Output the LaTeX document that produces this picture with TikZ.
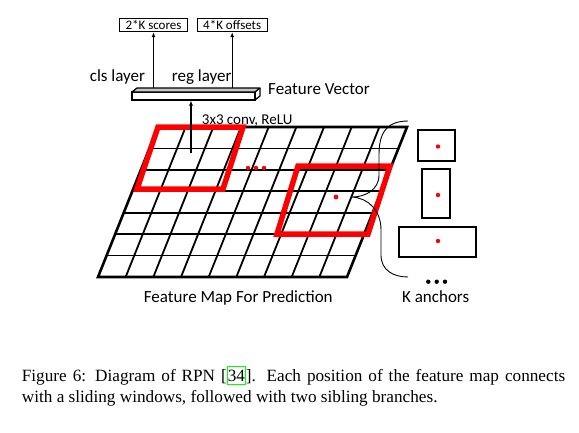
\documentclass[tikz,border=0pt]{standalone}
\usepackage{fontspec}
\setmainfont{Carlito}
\newfontfamily\capfont{Liberation Serif}
\usetikzlibrary{calc,arrows.meta}

\tikzset{
  grid line/.style={line width=1.8pt},
  window/.style={red,line width=5.5pt,line join=miter},
  anchorbox/.style={line width=2pt},
  outbox/.style={draw,line width=0.9pt,inner xsep=6pt,inner ysep=0pt,
    minimum height=13.4pt,font=\fontsize{13}{15}\selectfont},
  up/.style={line width=1.2pt,-{Latex[length=5pt,width=4pt]}},
  lbl/.style={font=\fontsize{17}{20}\selectfont,inner sep=0pt,anchor=base},
  capline/.style={font=\capfont\fontsize{17.2}{21}\selectfont,inner sep=0pt,anchor=base west},
}

\newcommand\citebox[1]{{\setlength\fboxsep{0pt}\setlength\fboxrule{0.9pt}%
  \textcolor{green}{\fbox{\textcolor{black}{\rule[-2.6pt]{0pt}{17pt}#1}}}}}

\begin{document}
\begin{tikzpicture}[x=1pt,y=-1pt]
  \useasboundingbox (0,0) rectangle (579,432);

  \coordinate (TL) at (158,127);
  \coordinate (TR) at (407,127);
  \coordinate (BL) at (98,277);
  \coordinate (BR) at (347,277);

  \foreach \i in {1,...,6}
    \draw[grid line] ($(TL)!\i/7!(BL)$) -- ($(TR)!\i/7!(BR)$);
  \foreach \j in {1,...,8}
    \draw[grid line] ($(TL)!\j/9!(TR)$) -- ($(BL)!\j/9!(BR)$);
  \draw[line width=2.6pt] (TL) -- (TR) -- (BR) -- (BL) -- cycle;

  \draw[window] (158,127) -- (243,127) -- (223,189) -- (137,189) -- cycle;
  \draw[window] (298,166) -- (390,166) -- (368,234) -- (277,234) -- cycle;
  \foreach \x in {248,256,264}
    \fill[red] (\x,168) circle (2.2pt);
  \coordinate (ctr) at (336,197);
  \fill[red] (ctr) circle (2.4pt);

  \coordinate (win) at (191,153);
  \coordinate (fv) at (191,100.5);
  \draw[line width=1.3pt] (132,92) rectangle (255,100);
  \draw[line width=1.3pt,line join=round,fill=gray!45] (132,92) -- ++(5,-4) -- ++(123,0) -- ++(-5,4) -- cycle;
  \draw[line width=1.3pt,line join=round] (255,100) -- ++(5,-4) -- ++(0,-8);
  \draw[up] (win) -- (fv);

  \node[outbox] (scores) at (153.5,25) {2*K scores};
  \node[outbox] (offsets) at (232.2,25) {4*K offsets};
  \coordinate (clsfoot) at (153.5,88);
  \coordinate (regfoot) at (232.2,88);
  \draw[up] (clsfoot) -- (scores);
  \draw[up] (regfoot) -- (offsets);

  \node[lbl] (cls) at (117.5,81.7) {cls layer};
  \node[lbl] (reg) at (201.7,81.7) {reg layer};
  \node[lbl,anchor=base west] (fvec) at (268,94.3) {Feature Vector};
  \node[lbl,anchor=base west,font=\fontsize{15}{18}\selectfont] (conv) at (201.7,124) {3x3 conv, ReLU};
  \node[lbl] (fmap) at (238.3,302.7) {Feature Map For Prediction};
  \node[lbl] (kanch) at (435.7,302.7) {K anchors};

  \draw[anchorbox] (418.3,130.3) rectangle (454.7,161.3);
  \draw[anchorbox] (421.7,169.3) rectangle (450,218.3);
  \draw[anchorbox] (399.3,227) rectangle (475.7,256.7);
  \foreach \y in {146.5,195,241}
    \fill[red] (438,\y) circle (2.2pt);
  \foreach \x in {428.3,436.7,445}
    \fill (\x,281.7) circle (2.2pt);

  \draw[line width=0.9pt] (408,121) .. controls (385,121) and (379,135) .. (379,155)
    -- (379,175) .. controls (379,190) and (365,197) .. (352,197)
    .. controls (368,198) and (381,210) .. (381,230)
    -- (381,255) .. controls (381,270) and (393,277) .. (408,277);

  \node[capline] (cap1) at (21.7,381.7) {\makebox[543.3pt][s]{Figure 6: Diagram of RPN [\citebox{34}]. Each position of the feature map connects}};
  \node[capline] (cap2) at (21.7,402.7) {with a sliding windows, followed with two sibling branches.};
\end{tikzpicture}
\end{document}
